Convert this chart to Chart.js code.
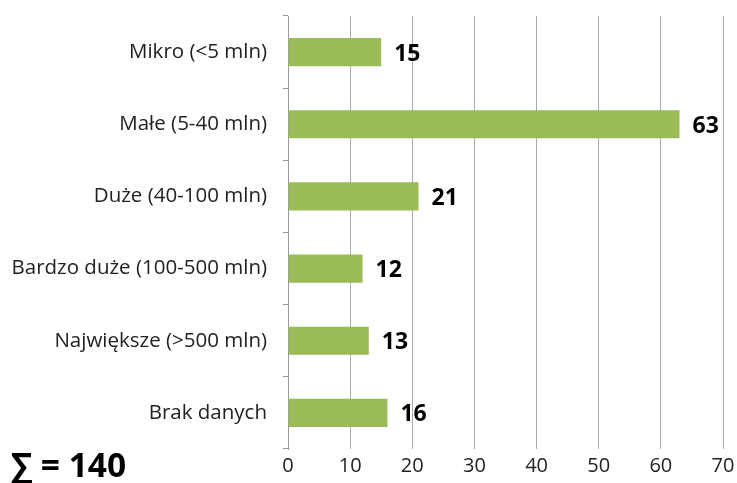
<!DOCTYPE html>
<html><head><meta charset="utf-8">
<script src="https://cdn.jsdelivr.net/npm/chart.js@4"></script>
<style>html,body{margin:0;padding:0;background:#fff}#wrap{width:737px;height:483px}</style>
</head><body><div id="wrap"><canvas id="c" width="737" height="483"></canvas></div>
<script>
const categories = ["Mikro (<5 mln)", "Małe (5-40 mln)", "Duże (40-100 mln)", "Bardzo duże (100-500 mln)", "Największe (>500 mln)", "Brak danych"];
const values = [15, 63, 21, 12, 13, 16];
const xTicks = [0, 10, 20, 30, 40, 50, 60, 70];
const totalLabel = "∑ = 140";

const FONT = "'Open Sans', sans-serif";

const labelPlugin = {
  id: 'vals',
  afterDatasetsDraw(chart) {
    const ctx = chart.ctx;
    const meta = chart.getDatasetMeta(0);
    ctx.save();
    ctx.font = "bold 23px " + FONT;
    ctx.fillStyle = "#000";
    ctx.textBaseline = "middle";
    ctx.textAlign = "left";
    meta.data.forEach((bar, i) => {
      ctx.fillText(String(values[i]), bar.x + 13, bar.y + 2);
    });
    ctx.font = "bold 33.5px " + FONT;
    ctx.fillText(totalLabel, 11, 467);
    ctx.restore();
  }
};

new Chart(document.getElementById('c'), {
  type: 'bar',
  data: {
    labels: categories,
    datasets: [{ data: values, backgroundColor: '#9BBB59', barPercentage: 0.39, categoryPercentage: 1 }]
  },
  options: {
    indexAxis: 'y',
    responsive: false,
    animation: false,
    layout: { padding: { top: 16, right: 14, left: 0, bottom: 0 } },
    plugins: { legend: { display: false }, tooltip: { enabled: false } },
    scales: {
      x: {
        min: 0, max: 70,
        afterBuildTicks(s) { s.ticks = xTicks.map(v => ({ value: v })); },
        grid: { color: '#ababab', lineWidth: 1, drawTicks: false },
        border: { display: false },
        ticks: { color: '#222', font: { family: FONT, size: 20 }, padding: 5 },
        afterFit(s) { s.height = 34; s.paddingLeft = 0; s.paddingRight = 0; }
      },
      y: {
        grid: { drawOnChartArea: false, drawTicks: true, tickLength: 5, color: '#999', offset: true },
        border: { display: true, color: '#999', width: 1 },
        ticks: { color: '#222', font: { family: FONT, size: 20.5 }, padding: 16 },
        afterFit(s) { s.width = 288; s.paddingTop = 0; s.paddingBottom = 0; }
      }
    }
  },
  plugins: [labelPlugin]
});
</script>
</body></html>
